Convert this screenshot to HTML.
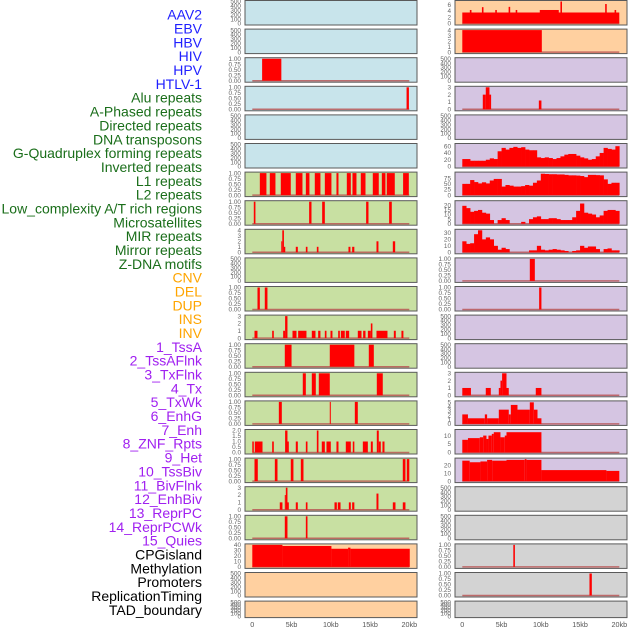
<!DOCTYPE html>
<html><head><meta charset="utf-8">
<style>
html,body{margin:0;padding:0;background:#fff;}
body{width:630px;height:630px;overflow:hidden;position:relative;font-family:"Liberation Sans",sans-serif;}
svg{position:absolute;left:0;top:0;}
</style></head>
<body>
<svg id="chart" width="630" height="630" viewBox="0 0 630 630"></svg>
<script>
// ---- track labels ----
const trackLabels = ["AAV2","EBV","HBV","HIV","HPV","HTLV-1","Alu repeats","A-Phased repeats","Directed repeats","DNA transposons","G-Quadruplex forming repeats","Inverted repeats","L1 repeats","L2 repeats","Low_complexity A/T rich regions","Microsatellites","MIR repeats","Mirror repeats","Z-DNA motifs","CNV","DEL","DUP","INS","INV","1_TssA","2_TssAFlnk","3_TxFlnk","4_Tx","5_TxWk","6_EnhG","7_Enh","8_ZNF_Rpts","9_Het","10_TssBiv","11_BivFlnk","12_EnhBiv","13_ReprPC","14_ReprPCWk","15_Quies","CPGisland","Methylation","Promoters","ReplicationTiming","TAD_boundary"];
const labelGroups = ["v","v","v","v","v","v","r","r","r","r","r","r","r","r","r","r","r","r","r","s","s","s","s","s","c","c","c","c","c","c","c","c","c","c","c","c","c","c","c","k","k","k","k","k"];
// ---- x axis ----
const xTickValues = [0,5,10,15,20];
const xTickLabels = ["0","5kb","10kb","15kb","20kb"];
// ---- tick label sets ----
const ticksEmpty = ["0","100","200","300","400","500"];
const ticksFrac = ["0.00","0.25","0.50","0.75","1.00"];
const ticks0to3 = ["0","1","2","3"];
const ticks0to4 = ["0","1","2","3","4"];
const ticks0to2 = ["0.0","0.5","1.0","1.5","2.0"];
// ---- left column data (segments: startKb, endKb, value) ----
const L3_segments = [[1.25,3.7,1]];
const L4_segments = [[19.65,19.95,1]];
const L7_segments = [[0.96,1.8,1],[2.23,2.95,1],[3.63,4.9,1],[5.54,6.39,1],[6.82,7.28,1],[7.96,8.68,1],[9.24,10.08,1],[10.72,10.98,1],[12.04,12.55,1],[12.76,13.27,1],[13.82,14.42,1],[15.35,16.11,1],[16.5,16.96,1],[17.13,18.15,1],[19.21,19.94,1]];
const L8_segments = [[0.19,0.4,1],[7.24,7.54,1],[8.9,9.24,1],[14.5,14.8,1],[17.43,17.77,1]];
const L9_segments = [[3.69,3.82,2],[3.82,4.03,4],[4.03,4.2,1],[5.54,5.8,1],[6.82,7.03,1],[8.22,8.43,1],[12.25,12.5,1],[12.72,13.0,1],[15.82,16.07,2],[17.9,18.2,2]];
const L11_segments = [[0.66,0.96,1],[1.59,1.93,1]];
const L12_segments = [[0.28,0.66,1],[2.53,2.74,1],[3.93,4.18,1],[4.18,4.48,3],[5.12,5.63,1],[5.84,6.9,1],[7.58,8.05,1],[8.39,8.68,1],[9.24,9.45,1],[9.96,10.21,1],[10.94,11.15,1],[11.28,11.78,1],[11.91,12.34,1],[13.44,13.91,1],[14.12,14.42,1],[14.72,15.1,1],[15.1,15.3,2],[15.82,17.22,1],[18.03,18.28,1],[19.0,19.25,1]];
const L13_segments = [[4.14,5.0,1],[9.87,13.0,1],[14.84,15.48,1]];
const L14_segments = [[6.43,6.82,1],[7.58,8.09,1],[8.47,9.87,1],[15.86,16.62,1]];
const L15_segments = [[3.38,3.76,1],[9.87,10.0,1],[13.06,13.44,1]];
const L16_segments = [[0,0.19,1],[0.32,1.3,1],[2.53,2.74,1],[4.18,4.48,2],[4.48,4.65,1],[5.54,5.8,1],[6.82,7.03,1],[8.22,8.43,2],[8.85,9.24,1],[9.45,10.0,1],[10.72,10.98,1],[11.91,12.55,1],[12.8,13.0,1],[14.08,14.72,1],[15.1,15.35,1],[15.86,16.11,2],[16.11,16.37,1],[16.58,16.84,1]];
const L17_segments = [[0.28,0.7,1],[2.87,3.21,1],[4.9,5.24,1],[6.18,6.52,1],[19.17,19.51,1],[19.68,20.0,1]];
const L18_segments = [[3.5,3.84,1],[4.14,4.27,2],[4.27,4.48,3],[4.48,4.65,1],[5.54,5.8,1],[6.82,7.03,1],[10.47,10.77,1],[10.89,11.24,1],[12.3,12.55,1],[12.72,13.0,1],[15.82,16.07,2.2],[17.9,18.24,1],[19.17,19.51,1]];
const L19_segments = [[4.14,4.48,1],[6.82,7.03,1]];
const L20_segments = [[0,3.84,40],[3.84,10.08,38],[10.08,12.2,33],[12.2,12.5,35],[12.5,20.06,33]];
// ---- right column data ----
const R1_segments = [[0,20,3.5],[9.87,12.29,4.3],[0.96,1.17,4.3],[2.5,2.7,5.2],[4.2,4.4,4.3],[5.9,6.1,5.3],[6.8,7.0,4.3],[12.5,12.7,7],[18.2,18.4,6.2],[19.4,19.6,4.3]];
const R2_segments = [[0,10.13,4]];
const R4_segments = [[2.61,2.99,2],[2.99,3.46,3],[3.46,3.67,2],[9.75,10.08,1.2]];
// binned series, 0.5kb per bin
const R6_bins = [22,22,17,17,17,17,20,24,22,45,55,50,55,58,55,57,50,48,48,27,25,27,25,22,25,30,35,37,37,32,27,24,20,22,30,40,55,52,50,60];
const R7_bins = [50,50,67,58,52,57,52,65,72,72,38,45,42,38,38,40,45,42,55,65,95,94,93,93,92,92,90,88,88,87,85,80,90,90,89,88,70,50,55,55];
const R8_bins = [19.5,17,13,14,15,12,11,4,0,4,6,4,0,0,0,2,0,5,7,8,5,5,6,6,5,4,4,4,7,14,22,12,11,10,7,9,14,15,15,14];
const R9_bins = [17,13,14,28,34,20,23,20,10,4,7,5,0,0,0,0,0,3,3,10,4,3,4,5,4,3,2,0,2,3,10,7,9,9,5,0,5,6,3,3];
const R10_segments = [[8.6,9.24,1]];
const R11_segments = [[9.79,10.08,1]];
const R14_segments = [[0,1.1,1],[2.99,3.63,1],[4.65,4.86,1],[4.86,5.07,2],[5.07,5.63,3],[5.63,5.92,1],[9.36,10.08,1]];
const R15_segments = [[0,0.72,2.2],[0.72,2.87,1.3],[2.87,3.16,2.2],[3.16,4.65,1.3],[4.65,5.92,3.3],[5.92,6.18,2.2],[6.18,7.03,4.4],[7.03,8.6,3.3],[8.6,9.11,5],[9.11,9.58,3.3],[9.58,10.08,1.3]];
const R16_segments = [[0,0.72,7.5],[0.72,2.23,8.5],[2.23,2.66,9],[2.66,3.08,10],[3.08,3.33,8],[3.33,3.76,10],[3.76,4.01,11],[4.01,4.86,12],[4.86,5.41,9],[5.41,5.63,10],[5.63,10.08,12]];
const R17_segments = [[0,0.94,26],[0.94,2.31,24],[2.31,3.16,25],[3.16,3.8,27],[3.8,5.63,26],[5.63,7.96,27],[7.96,8.17,28],[8.17,10.08,27],[10.08,18.36,14],[18.36,20,13]];
const R20_segments = [[6.5,6.7,1]];
const R21_segments = [[16.2,16.5,1]];

const BG = {b:"#c8e4eb",g:"#c8e0a2",o:"#ffd0a0",p:"#d5c5e2",y:"#d3d3d3"};
const leftPanels = [
 ["b",500,ticksEmpty,null,null,null],["b",500,ticksEmpty,null,null,null],
 ["b",1,ticksFrac,null,L3_segments,null],["b",1,ticksFrac,null,L4_segments,null],
 ["b",500,ticksEmpty,null,null,null],["b",500,ticksEmpty,null,null,null],
 ["g",1,ticksFrac,null,L7_segments,null],["g",1,ticksFrac,null,L8_segments,null],
 ["g",4,ticks0to4,null,L9_segments,null],["g",500,ticksEmpty,null,null,null],
 ["g",1,ticksFrac,null,L11_segments,null],["g",3,ticks0to3,null,L12_segments,null],
 ["g",1,ticksFrac,null,L13_segments,null],["g",1,ticksFrac,null,L14_segments,null],
 ["g",1,ticksFrac,null,L15_segments,null],["g",2,ticks0to2,null,L16_segments,null],
 ["g",1,ticksFrac,null,L17_segments,null],["g",3,ticks0to3,null,L18_segments,null],
 ["g",1,ticksFrac,null,L19_segments,null],["o",40,["0","10","20","30","40"],null,L20_segments,null],
 ["o",500,ticksEmpty,null,null,null],["o",500,ticksEmpty,null,null,null]
];
const rightPanels = [
 ["o",7,["0","2","4","6"],[0,2,4,6],R1_segments,null],["o",4,ticks0to4,null,R2_segments,null],
 ["p",500,ticksEmpty,null,null,null],["p",3,ticks0to3,null,R4_segments,null],
 ["p",500,ticksEmpty,null,null,null],["p",65,["0","20","40","60"],[0,20,40,60],null,R6_bins],
 ["p",98,["0","25","50","75"],[0,25,50,75],null,R7_bins],["p",24,["0","5","10","15","20"],[0,5,10,15,20],null,R8_bins],
 ["p",34,["0","10","20","30"],[0,10,20,30],null,R9_bins],["p",1,ticksFrac,null,R10_segments,null],
 ["p",1,ticksFrac,null,R11_segments,null],["p",500,ticksEmpty,null,null,null],
 ["p",500,ticksEmpty,null,null,null],["p",3,ticks0to3,null,R14_segments,null],
 ["p",5.1,["0","1","2","3","4","5"],[0,1,2,3,4,5],R15_segments,null],["p",13,["0","5","10"],[0,5,10],R16_segments,null],
 ["p",28,["0","10","20"],[0,10,20],R17_segments,null],["y",500,ticksEmpty,null,null,null],
 ["y",500,ticksEmpty,null,null,null],["y",1,ticksFrac,null,R20_segments,null],
 ["y",1,ticksFrac,null,R21_segments,null],["y",500,ticksEmpty,null,null,null]
];

const NS="http://www.w3.org/2000/svg";
const svg=document.getElementById('chart');
function mk(tag,attrs,parent){const e=document.createElementNS(NS,tag);for(const k in attrs)e.setAttribute(k,attrs[k]);(parent||svg).appendChild(e);return e;}

const labColors={v:"#1f1fff",r:"#1a6e1a",s:"#ffa500",c:"#a020f0",k:"#000000"};
trackLabels.forEach((t,i)=>{
  const e=mk('text',{x:202,y:19.7+i*13.84,'text-anchor':'end','font-size':'14',fill:labColors[labelGroups[i]]});
  
  
  e.textContent=t;
});

const PW=172, ROWP=28.6;
function drawColumn(panels,px,colName){
  const x0=px+7.3, kbw=(PW-15)/20;
  const xs=kb=>x0+kb*kbw;
  panels.forEach((p,i)=>{
    const [bg,ymax,tl,tv,segs,bins]=p;
    const top=0.5+i*ROWP, h=(i===21)?16.5:24.5;
    const ybot=top+h-1.5, ytop=top+1;
    const ys=v=>ybot-(v/ymax)*(ybot-ytop);
    const g=mk('g',{});
    
    
    const r=mk('rect',{x:px,y:top,width:PW,height:h,fill:BG[bg],stroke:'#5a5a5a','stroke-width':1},g);
    
    
    const n=tl.length;
    tl.forEach((lab,k)=>{
      const val=tv?tv[k]:(k/(n-1))*ymax;
      const t=mk('text',{x:px-4,y:ys(val)+2.2,'text-anchor':'end','font-size':'6.4',fill:'#666'},g);
      
      
      t.textContent=lab;
    });
    if(segs||bins){
      const bl=mk('line',{x1:xs(0),x2:xs(20),y1:ybot,y2:ybot,stroke:'#b85050','stroke-width':1.5,opacity:0.8},g);
      
      
    }
    if(segs){
      segs.forEach(s=>{
        const b=mk('rect',{x:xs(s[0]),y:ys(s[2]),width:Math.max(1,xs(s[1])-xs(s[0])),height:ybot-ys(s[2]),fill:'#ff0000'},g);
        
        
      });
    }
    if(bins){
      bins.forEach((v,k)=>{
        if(v<=0)return;
        const b=mk('rect',{x:xs(k*0.5),y:ys(v),width:xs(0.5)-xs(0)+0.3,height:ybot-ys(v),fill:'#ff0000'},g);
        
        
      });
    }
  });
  xTickValues.forEach((v,k)=>{
    const t=mk('text',{x:xs(v),y:627,'text-anchor':'middle','font-size':'7.2',fill:'#555'});
    
    
    t.textContent=xTickLabels[k];
  });
}
drawColumn(leftPanels,245,'left');
drawColumn(rightPanels,455,'right');
</script>
</body></html>
